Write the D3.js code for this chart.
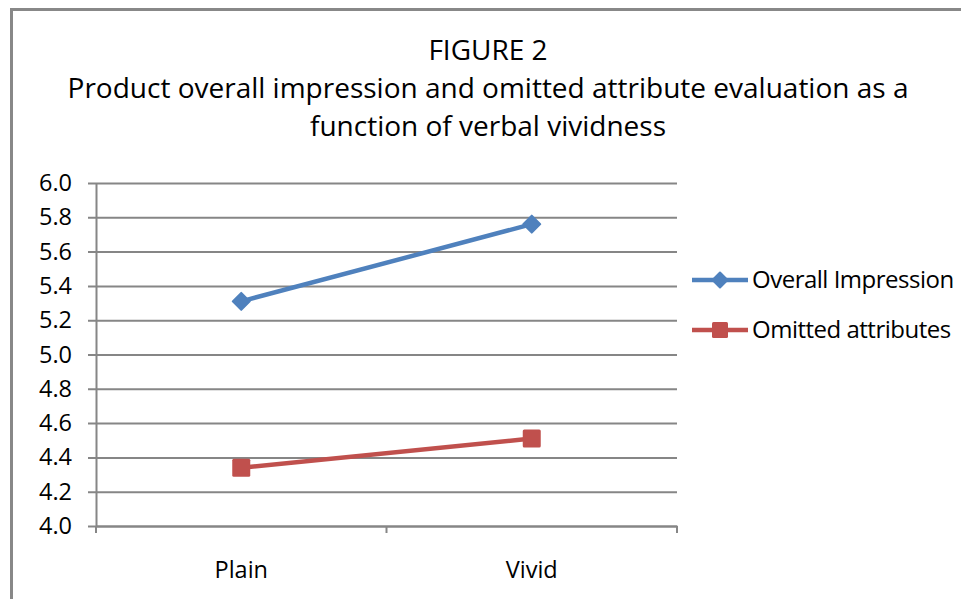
<!DOCTYPE html>
<html>
<head>
<meta charset="utf-8">
<script src="https://cdn.jsdelivr.net/npm/d3@7"></script>
<style>
  body { margin: 0; background: #fff; }
  svg { display: block; font-family: "Open Sans", sans-serif; }
</style>
</head>
<body>
<svg id="chart" width="961" height="599"></svg>
<script>
"use strict";

var titleLines = [
    "FIGURE 2",
    "Product overall impression and omitted attribute evaluation as a",
    "function of verbal vividness"
];
var categories = ["Plain", "Vivid"];
var yTicks = [4.0, 4.2, 4.4, 4.6, 4.8, 5.0, 5.2, 5.4, 5.6, 5.8, 6.0];
var overallImpression = [5.31, 5.76];
var omittedAttributes = [4.34, 4.51];

var series = [
    { name: "Overall Impression", values: overallImpression, color: "#4f81bd", marker: "diamond" },
    { name: "Omitted attributes", values: omittedAttributes, color: "#c0504d", marker: "square" }
];

var svg = d3.select("#chart");
var margin = { left: 96, right: 284, top: 183, bottom: 73 };
var width = 961 - margin.left - margin.right;
var height = 599 - margin.top - margin.bottom;
var axisColor = "#868686";
var fontFamily = "'Open Sans', sans-serif";

// outer chart border (runs off the right and bottom edges)
svg.append("rect")
    .attr("x", 11.5)
    .attr("y", 9.5)
    .attr("width", 1000)
    .attr("height", 1000)
    .attr("fill", "none")
    .attr("stroke", "#888")
    .attr("stroke-width", 3);

svg.append("g")
    .attr("class", "title")
    .selectAll("text")
    .data(titleLines)
    .enter()
    .append("text")
    .attr("x", 488)
    .attr("y", function(d, i) { return 60 + i * 38; })
    .attr("text-anchor", "middle")
    .attr("font-size", 28)
    .attr("fill", "#000")
    .text(function(d) { return d; });

var x = d3.scaleBand().domain(categories).range([0, width]);
var y = d3.scaleLinear().domain([4, 6]).range([height, 0]);

var g = svg.append("g")
    .attr("transform", "translate(" + margin.left + "," + margin.top + ")");

// horizontal gridlines with ticks sticking out to the left
var yAxis = g.append("g")
    .call(d3.axisLeft(y).tickValues(yTicks).tickFormat(d3.format(".1f"))
        .tickSizeInner(-width).tickSizeOuter(0).tickPadding(24));
yAxis.select(".domain").attr("stroke", axisColor).attr("stroke-width", 2);
yAxis.selectAll(".tick line")
    .attr("stroke", axisColor)
    .attr("stroke-width", 2)
    .attr("x1", -8);
yAxis.selectAll(".tick text")
    .attr("font-size", 23.5)
    .attr("fill", "#000")
    .attr("font-family", fontFamily);

// x axis with boundary ticks
var xAxis = g.append("g")
    .attr("transform", "translate(0," + height + ")")
    .call(d3.axisBottom(x).tickSize(0).tickPadding(35));
xAxis.select(".domain").attr("stroke", axisColor).attr("stroke-width", 2);
xAxis.selectAll(".tick text")
    .attr("font-size", 23.5)
    .attr("fill", "#000")
    .attr("font-family", fontFamily);
xAxis.selectAll(".boundary")
    .data([0, x.bandwidth(), width])
    .enter()
    .append("line")
    .attr("class", "boundary")
    .attr("x1", function(d) { return d; })
    .attr("x2", function(d) { return d; })
    .attr("y1", 0)
    .attr("y2", 7)
    .attr("stroke", axisColor)
    .attr("stroke-width", 2);

var line = d3.line()
    .x(function(d, i) { return x(categories[i]) + x.bandwidth() / 2; })
    .y(function(d) { return y(d); });

function drawMarker(sel, kind, color, size) {
    if (kind === "diamond") {
        var h = size / 2;
        sel.append("path")
            .attr("d", "M0," + (-h) + "L" + h + ",0L0," + h + "L" + (-h) + ",0Z")
            .attr("fill", color)
            .attr("stroke", color)
            .attr("stroke-width", 2)
            .attr("stroke-linejoin", "round");
    } else {
        sel.append("rect")
            .attr("x", -size / 2)
            .attr("y", -size / 2)
            .attr("width", size)
            .attr("height", size)
            .attr("rx", 1.5)
            .attr("fill", color);
    }
}

series.forEach(function(s) {
    g.append("path")
        .datum(s.values)
        .attr("d", line)
        .attr("fill", "none")
        .attr("stroke", s.color)
        .attr("stroke-width", 4.5);

    g.selectAll(null)
        .data(s.values)
        .enter()
        .append("g")
        .attr("transform", function(d, i) {
            return "translate(" + (x(categories[i]) + x.bandwidth() / 2) + "," + y(d) + ")";
        })
        .each(function() {
            drawMarker(d3.select(this), s.marker, s.color, s.marker === "diamond" ? 17 : 18);
        });
});

// legend
var legend = svg.append("g")
    .attr("transform", "translate(692,280)");
var items = legend.selectAll("g")
    .data(series)
    .enter()
    .append("g")
    .attr("transform", function(d, i) { return "translate(0," + (i * 50) + ")"; });
items.append("line")
    .attr("x1", 0)
    .attr("x2", 56)
    .attr("stroke", function(d) { return d.color; })
    .attr("stroke-width", 4.5);
items.each(function(d) {
    var m = d3.select(this).append("g").attr("transform", "translate(28,0)");
    drawMarker(m, d.marker, d.color, d.marker === "diamond" ? 15 : 16);
});
items.append("text")
    .attr("x", 60)
    .attr("dy", "0.35em")
    .attr("font-size", 24)
    .attr("letter-spacing", -0.5)
    .text(function(d) { return d.name; });
</script>
</body>
</html>
